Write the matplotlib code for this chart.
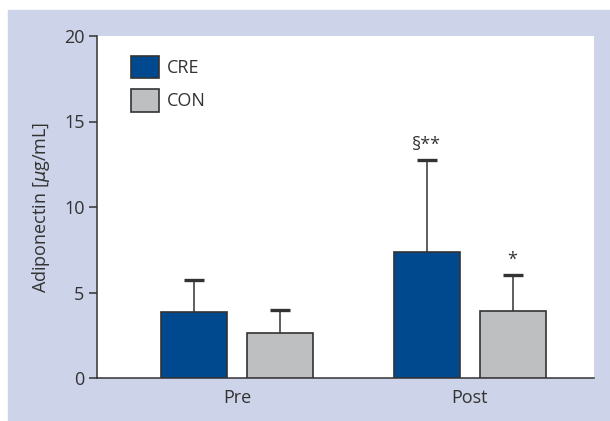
import matplotlib
matplotlib.use("Agg")
import matplotlib.pyplot as plt
from matplotlib.patches import Rectangle
import numpy as np

plt.rcParams['font.family'] = ['Open Sans', 'DejaVu Sans']

# data
groups = ['Pre', 'Post']
cre_mean = [3.85, 7.35]
cre_sd = [1.9, 5.4]
con_mean = [2.65, 3.9]
con_sd = [1.35, 2.15]
marks_cre = ['', '§**']
marks_con = ['', '*']

blue = '#00498f'
grey = '#bebfc1'
panel = '#cdd3e8'
dark = '#333333'

fig = plt.figure(figsize=(6.1, 4.21), dpi=100)
fig.patches.append(Rectangle((8/610, 0), 1 - 8/610, (421-10)/421,
                             transform=fig.transFigure, color=panel, zorder=-10))
ax = fig.add_axes([97/610, 43/421, 497/610, 342/421])
ax.set_facecolor('white')

x = np.arange(len(groups))
w = 0.284
off = 0.185


def draw(pos, mean, sd, col, lab):
    mean = np.array(mean)
    sd = np.array(sd)
    ax.bar(pos, mean, w, color=col, edgecolor=dark, linewidth=1.2, label=lab, zorder=3)
    # upper error only, no cap at the bar top
    ax.vlines(pos, mean, mean + sd, color=dark, lw=1.1, zorder=2)
    ax.plot(pos, mean + sd, ls='none', marker='_', markersize=14, mew=2.4, color=dark, zorder=2)


draw(x - off, cre_mean, cre_sd, blue, 'CRE')
draw(x + off, con_mean, con_sd, grey, 'CON')

for i in range(len(groups)):
    if marks_cre[i]:
        ax.text(x[i] - off, cre_mean[i] + cre_sd[i] + 0.35, marks_cre[i], ha='center',
                va='bottom', fontsize=13, color=dark)
    if marks_con[i]:
        ax.text(x[i] + off, con_mean[i] + con_sd[i] + 0.35, marks_con[i], ha='center',
                va='bottom', fontsize=13, color=dark)

ax.set_xlim(-0.602, 1.535)
ax.set_ylim(0, 20)
ax.set_yticks([0, 5, 10, 15, 20])
ax.set_xticks(x)
ax.set_xticklabels(groups)
ax.tick_params(axis='x', length=0, pad=8, labelsize=13, colors=dark)
ax.tick_params(axis='y', length=6, width=1.1, pad=3, labelsize=13, colors=dark)
for s in ['top', 'right']:
    ax.spines[s].set_visible(False)
for s in ['left', 'bottom']:
    ax.spines[s].set_color(dark)
    ax.spines[s].set_linewidth(1.1)
ax.set_ylabel(r'Adiponectin [$\mu$g/mL]', fontsize=13, color=dark, labelpad=9)

leg = ax.legend(loc='upper left', bbox_to_anchor=(0.035, 0.99), frameon=False,
                fontsize=13, handlelength=1.55, handleheight=1.55, handletextpad=0.45,
                labelspacing=0.6, labelcolor=dark)

fig.savefig('out.png', dpi=100)
